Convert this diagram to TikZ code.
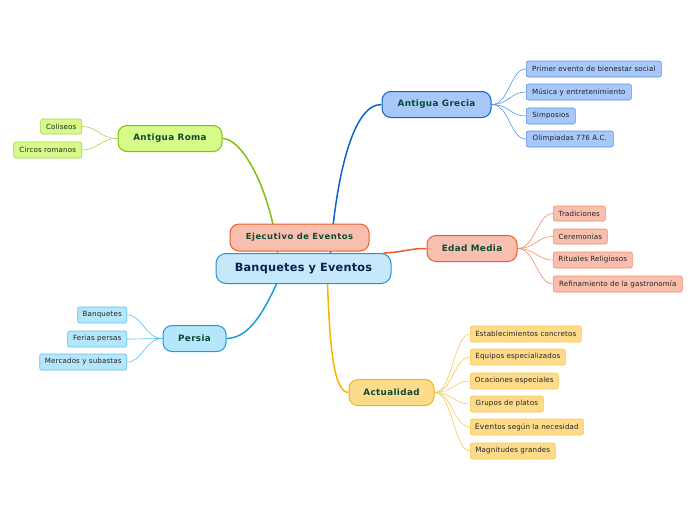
\documentclass[tikz,border=0pt]{standalone}
\usepackage{fontspec}
\setmainfont{DejaVu Sans}
\newfontfamily\topicfont[LetterSpace=4]{DejaVu Sans}
\newfontfamily\ejecfont[LetterSpace=6]{DejaVu Sans}
\newfontfamily\leaffont[LetterSpace=2]{DejaVu Sans}
\newfontfamily\centerfont[LetterSpace=2]{DejaVu Sans}
\usetikzlibrary{backgrounds}
\definecolor{topictext}{HTML}{0B4A33}
\definecolor{centertext}{HTML}{0A2050}
\definecolor{leaftext}{HTML}{222222}
\definecolor{cfill}{HTML}{C5E8FB}\definecolor{cdraw}{HTML}{2A8FCF}
\definecolor{ofill}{HTML}{F9BFAE}\definecolor{odraw}{HTML}{F05A28}\definecolor{oleaf}{HTML}{F38A68}
\definecolor{bfill}{HTML}{A8C8FA}\definecolor{bdraw}{HTML}{1060D0}\definecolor{bleaf}{HTML}{5A90E8}
\definecolor{yfill}{HTML}{FEDB8A}\definecolor{ydraw}{HTML}{F5B400}\definecolor{yleaf}{HTML}{F8C850}
\definecolor{pfill}{HTML}{B5E6FB}\definecolor{pdraw}{HTML}{10A0E0}\definecolor{pleaf}{HTML}{58C4F0}
\definecolor{gfill}{HTML}{D6FB88}\definecolor{gdraw}{HTML}{80C010}\definecolor{gleaf}{HTML}{A8D448}
\tikzset{
  maintopic/.style={draw, line width=1pt, rounded corners=9pt, font=\topicfont\fontsize{8.8}{9}\selectfont\bfseries, text=topictext, minimum height=26pt, inner sep=0pt},
  leafbox/.style={draw, line width=0.6pt, rounded corners=2pt, font=\leaffont\fontsize{7.1}{7}\selectfont, text=leaftext, minimum height=16pt, inner sep=0pt},
  branch/.style={line width=1.5pt},
  twig/.style={line width=0.6pt}
}
\begin{document}
\begin{tikzpicture}[x=1pt,y=-1pt]
\useasboundingbox (0,0) rectangle (696,520);
% central
\node[draw=cdraw, fill=cfill, line width=1pt, rounded corners=10pt, minimum width=175pt, minimum height=30pt, inner sep=0pt, font=\centerfont\fontsize{11.3}{12}\selectfont\bfseries, text=centertext] (center) at (303.5,268.5) {Banquetes y Eventos};
\node[maintopic, draw=odraw, fill=ofill, minimum width=139pt, minimum height=27pt, font=\ejecfont\fontsize{8.4}{9}\selectfont\bfseries] (ejec) at (299.5,237.5) {Ejecutivo de Eventos};
% topics
\node[maintopic, draw=bdraw, fill=bfill, minimum width=109pt] (grecia) at (436.5,104.5) {Antigua Grecia};
\node[maintopic, draw=odraw, fill=ofill, minimum width=90pt] (edad) at (472,248.5) {Edad Media};
\node[maintopic, draw=ydraw, fill=yfill, minimum width=85pt] (actual) at (391.5,392.5) {Actualidad};
\node[maintopic, draw=pdraw, fill=pfill, minimum width=63pt] (persia) at (194.5,338.5) {Persia};
\node[maintopic, draw=gdraw, fill=gfill, minimum width=104pt] (roma) at (170,138.5) {Antigua Roma};
% Grecia leaves
\node[leafbox, draw=bleaf, fill=bfill, anchor=west, minimum width=135pt] (g1) at (526,69) {Primer evento de bienestar social};
\node[leafbox, draw=bleaf, fill=bfill, anchor=west, minimum width=105pt] (g2) at (526,92) {Música y entretenimiento};
\node[leafbox, draw=bleaf, fill=bfill, anchor=west, minimum width=49pt] (g3) at (526,116) {Simposios};
\node[leafbox, draw=bleaf, fill=bfill, anchor=west, minimum width=87pt] (g4) at (526,139) {Olimpiadas 776 A.C.};
% Edad Media leaves
\node[leafbox, draw=oleaf, fill=ofill, anchor=west, minimum width=52pt, minimum height=15pt] (e1) at (553,213.5) {Tradiciones};
\node[leafbox, draw=oleaf, fill=ofill, anchor=west, minimum width=54pt, minimum height=15pt] (e2) at (553,236.5) {Ceremonias};
\node[leafbox, draw=oleaf, fill=ofill, anchor=west, minimum width=79pt] (e3) at (553,260) {Rituales Religiosos};
\node[leafbox, draw=oleaf, fill=ofill, anchor=west, minimum width=129pt] (e4) at (553,284) {Refinamiento de la gastronomía};
% Actualidad leaves
\node[leafbox, draw=yleaf, fill=yfill, anchor=west, minimum width=111pt] (a1) at (470,334) {Establecimientos concretos};
\node[leafbox, draw=yleaf, fill=yfill, anchor=west, minimum width=95pt] (a2) at (470,357) {Equipos especializados};
\node[leafbox, draw=yleaf, fill=yfill, anchor=west, minimum width=88pt] (a3) at (470,381) {Ocaciones especiales};
\node[leafbox, draw=yleaf, fill=yfill, anchor=west, minimum width=73pt] (a4) at (470,404) {Grupos de platos};
\node[leafbox, draw=yleaf, fill=yfill, anchor=west, minimum width=113pt] (a5) at (470,427) {{\fontsize{7.6}{7}\selectfont Event}os según la necesidad};
\node[leafbox, draw=yleaf, fill=yfill, anchor=west, minimum width=85pt] (a6) at (470,451) {Magnitudes grandes};
% Persia leaves
\node[leafbox, draw=pleaf, fill=pfill, anchor=east, minimum width=49pt] (p1) at (127,315) {Banquetes};
\node[leafbox, draw=pleaf, fill=pfill, anchor=east, minimum width=59pt] (p2) at (127,339) {Ferias persas};
\node[leafbox, draw=pleaf, fill=pfill, anchor=east, minimum width=87pt] (p3) at (127,362) {Mercados y subastas};
% Roma leaves
\node[leafbox, draw=gleaf, fill=gfill, anchor=east, minimum width=41pt, minimum height=15pt] (r1) at (82,126.5) {Coliseos};
\node[leafbox, draw=gleaf, fill=gfill, anchor=east, minimum width=68pt] (r2) at (82,150) {Circos romanos};
% connectors
\begin{scope}[on background layer]
\draw[branch, gdraw] ([xshift=-26pt]center.north) .. controls (271,190) and (242,138) .. (roma.east);
\draw[branch, bdraw] ([xshift=27pt]center.north) .. controls (336,180) and (352,104) .. (grecia.west);
\draw[branch, odraw] ([xshift=-8pt]center.north east) .. controls (405,252) and (412,248) .. (edad.west);
\draw[branch, ydraw] ([xshift=24pt]center.south) .. controls (330,350) and (334,392) .. (actual.west);
\draw[branch, pdraw] ([xshift=-27pt]center.south) .. controls (260,320) and (246,338) .. (persia.east);
\foreach \n in {g1,g2,g3,g4}
  \draw[twig, bleaf] (grecia.east) .. controls +(18,0) and +(-16,0) .. (\n.west);
\foreach \n in {e1,e2,e3,e4}
  \draw[twig, oleaf] (edad.east) .. controls +(18,0) and +(-16,0) .. (\n.west);
\foreach \n in {a1,a2,a3,a4,a5,a6}
  \draw[twig, yleaf] (actual.east) .. controls +(18,0) and +(-16,0) .. (\n.west);
\foreach \n in {p1,p2,p3}
  \draw[twig, pleaf] (persia.west) .. controls +(-18,0) and +(16,0) .. (\n.east);
\foreach \n in {r1,r2}
  \draw[twig, gleaf] (roma.west) .. controls +(-18,0) and +(16,0) .. (\n.east);
\end{scope}
\end{tikzpicture}
\end{document}
